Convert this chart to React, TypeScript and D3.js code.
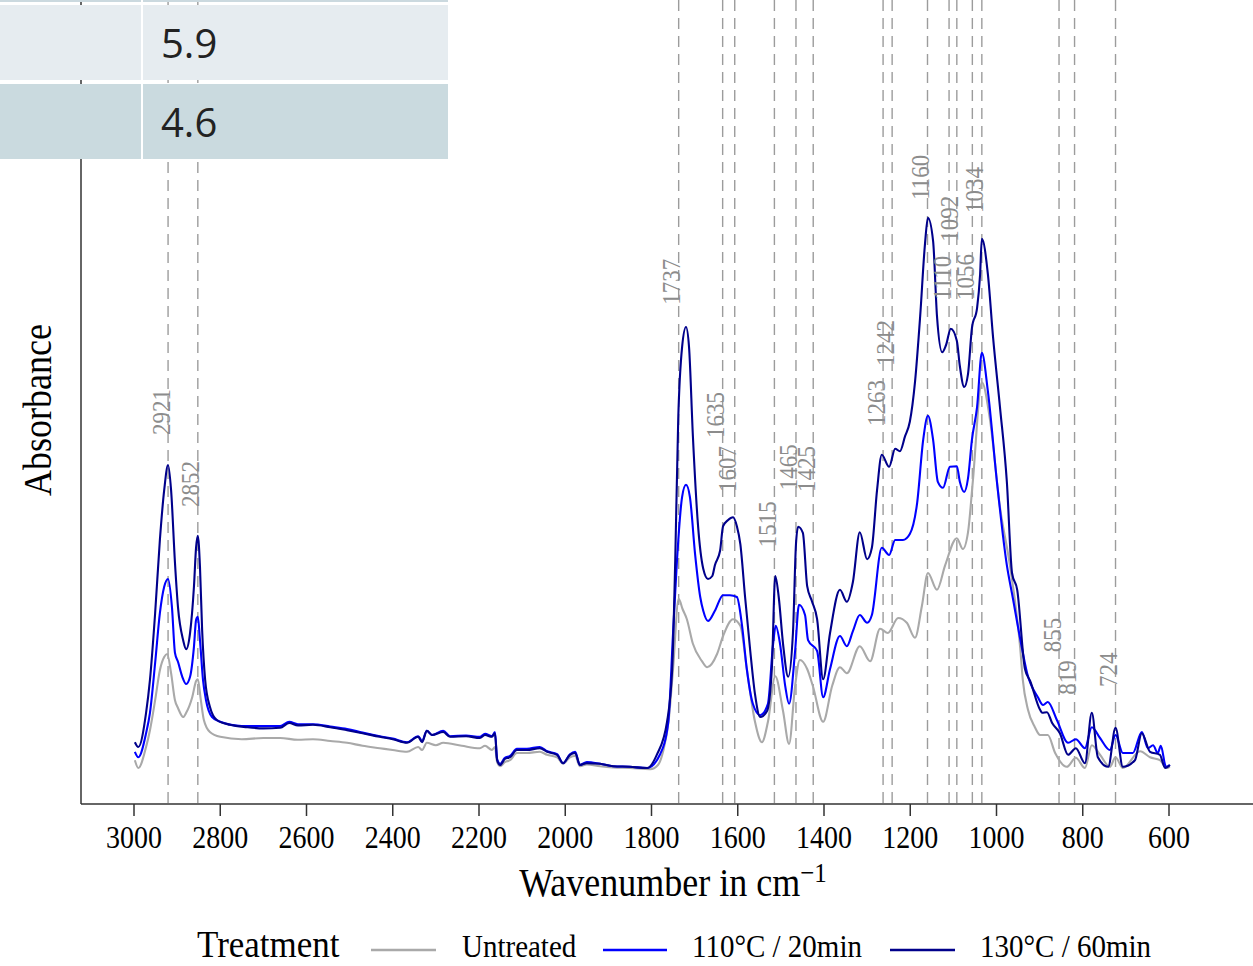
import React from "react";
import * as d3 from "d3";

// ---------- data ----------
const xTicks = [3000, 2800, 2600, 2400, 2200, 2000, 1800, 1600, 1400, 1200, 1000, 800, 600];
const peakWavenumbers = [2921, 2852, 1737, 1635, 1607, 1515, 1465, 1425, 1263, 1242, 1160, 1110, 1092, 1056, 1034, 855, 819, 724];
const peakLabelLevels = [0.615, 0.495, 0.832, 0.61, 0.52, 0.428, 0.523, 0.52, 0.63, 0.73, 1.007, 0.84, 0.937, 0.84, 0.985, 0.253, 0.182, 0.195];
const treatments = ["Untreated", "110°C / 20min", "130°C / 60min"];
const treatmentColors = ["#A9A9A9", "#0000FF", "#00008B"];
const tableFirstCol = ["", "", ""];
const tableSecondCol = ["", "5.9", "4.6"];

const untreated: [number, number][] = [
  [2998, 0.073], [2990, 0.06], [2972, 0.095], [2963, 0.123], [2951, 0.173], [2940, 0.223], [2930, 0.245], [2923, 0.25],
  [2914, 0.218], [2905, 0.173], [2898, 0.16], [2886, 0.145], [2879, 0.152], [2865, 0.178], [2856, 0.205], [2852, 0.208],
  [2845, 0.173], [2838, 0.14], [2824, 0.12], [2800, 0.112], [2750, 0.108], [2700, 0.11], [2661, 0.11], [2620, 0.107],
  [2585, 0.108], [2545, 0.105], [2506, 0.102], [2470, 0.097], [2430, 0.093], [2400, 0.09], [2367, 0.087], [2341, 0.095],
  [2332, 0.09], [2321, 0.102], [2300, 0.098], [2283, 0.102], [2240, 0.097], [2198, 0.093], [2186, 0.097], [2170, 0.09],
  [2163, 0.095], [2158, 0.07], [2151, 0.063], [2140, 0.07], [2128, 0.073], [2112, 0.085], [2089, 0.085], [2059, 0.087],
  [2042, 0.082], [2019, 0.078], [2005, 0.067], [1989, 0.078], [1977, 0.08], [1966, 0.063], [1950, 0.066], [1919, 0.063],
  [1889, 0.061], [1850, 0.06], [1803, 0.058], [1785, 0.065], [1773, 0.088], [1760, 0.14], [1750, 0.225], [1737, 0.342],
  [1728, 0.325], [1718, 0.308], [1704, 0.267], [1683, 0.238], [1671, 0.228], [1648, 0.25], [1634, 0.28], [1611, 0.308],
  [1594, 0.297], [1579, 0.225], [1560, 0.137], [1544, 0.103], [1530, 0.137], [1513, 0.213], [1495, 0.155], [1481, 0.1],
  [1467, 0.197], [1456, 0.24], [1439, 0.225], [1426, 0.197], [1402, 0.137], [1381, 0.197], [1363, 0.228], [1347, 0.218],
  [1317, 0.263], [1293, 0.238], [1270, 0.292], [1252, 0.285], [1228, 0.31], [1208, 0.302], [1189, 0.277], [1173, 0.33],
  [1159, 0.385], [1138, 0.357], [1119, 0.398], [1092, 0.443], [1078, 0.425], [1066, 0.453], [1055, 0.537], [1034, 0.703],
  [1015, 0.64], [992, 0.495], [969, 0.398], [945, 0.26], [939, 0.207], [927, 0.157], [911, 0.128], [899, 0.115],
  [881, 0.115], [864, 0.085], [837, 0.062], [816, 0.077], [795, 0.06], [779, 0.098], [760, 0.082], [737, 0.062],
  [724, 0.078], [707, 0.06], [667, 0.088], [644, 0.078], [621, 0.073], [605, 0.06], [598, 0.062],
];

const treated110: [number, number][] = [
  [2998, 0.087], [2990, 0.078], [2972, 0.118], [2963, 0.152], [2951, 0.235], [2940, 0.318], [2930, 0.362], [2921, 0.375],
  [2912, 0.328], [2905, 0.252], [2898, 0.237], [2888, 0.212], [2879, 0.2], [2870, 0.212], [2861, 0.262], [2856, 0.307],
  [2852, 0.312], [2847, 0.273], [2840, 0.207], [2833, 0.173], [2819, 0.145], [2800, 0.137], [2750, 0.13], [2700, 0.13],
  [2661, 0.13], [2640, 0.137], [2620, 0.133], [2585, 0.133], [2545, 0.129], [2506, 0.125], [2470, 0.119], [2430, 0.113],
  [2400, 0.109], [2367, 0.103], [2341, 0.113], [2332, 0.105], [2321, 0.122], [2309, 0.115], [2283, 0.122], [2267, 0.113],
  [2230, 0.114], [2198, 0.112], [2186, 0.117], [2170, 0.113], [2163, 0.12], [2158, 0.075], [2151, 0.067], [2140, 0.077],
  [2128, 0.08], [2112, 0.092], [2089, 0.092], [2059, 0.095], [2042, 0.088], [2019, 0.083], [2005, 0.068], [1989, 0.083],
  [1977, 0.087], [1966, 0.065], [1950, 0.07], [1919, 0.067], [1889, 0.063], [1850, 0.062], [1810, 0.06], [1780, 0.083],
  [1761, 0.137], [1750, 0.285], [1741, 0.405], [1729, 0.512], [1720, 0.532], [1711, 0.512], [1699, 0.417], [1687, 0.345],
  [1680, 0.322], [1669, 0.305], [1653, 0.322], [1634, 0.348], [1618, 0.348], [1602, 0.345], [1590, 0.297], [1579, 0.225],
  [1565, 0.167], [1548, 0.148], [1530, 0.167], [1518, 0.267], [1512, 0.297], [1502, 0.267], [1490, 0.197], [1481, 0.167],
  [1467, 0.255], [1458, 0.332], [1444, 0.315], [1437, 0.273], [1416, 0.255], [1402, 0.178], [1386, 0.225], [1363, 0.28],
  [1347, 0.263], [1333, 0.288], [1317, 0.315], [1300, 0.302], [1289, 0.315], [1266, 0.427], [1249, 0.415], [1235, 0.44],
  [1217, 0.44], [1201, 0.45], [1184, 0.502], [1170, 0.607], [1159, 0.647], [1147, 0.607], [1136, 0.537], [1124, 0.527],
  [1108, 0.562], [1092, 0.563], [1085, 0.537], [1075, 0.52], [1066, 0.543], [1057, 0.607], [1045, 0.662], [1034, 0.752],
  [1020, 0.688], [999, 0.537], [976, 0.398], [962, 0.343], [945, 0.275], [929, 0.218], [904, 0.178], [892, 0.165],
  [881, 0.17], [860, 0.14], [834, 0.102], [816, 0.108], [795, 0.093], [779, 0.128], [760, 0.11], [737, 0.09],
  [724, 0.115], [707, 0.085], [684, 0.085], [663, 0.12], [649, 0.093], [637, 0.098], [626, 0.085], [619, 0.097],
  [607, 0.062], [598, 0.065],
];

const treated130: [number, number][] = [
  [2998, 0.103], [2990, 0.095], [2972, 0.152], [2963, 0.207], [2951, 0.318], [2940, 0.44], [2930, 0.523], [2921, 0.565],
  [2914, 0.523], [2905, 0.402], [2898, 0.328], [2886, 0.273], [2879, 0.258], [2870, 0.285], [2861, 0.362], [2856, 0.428],
  [2852, 0.447], [2847, 0.395], [2842, 0.29], [2835, 0.207], [2824, 0.162], [2808, 0.14], [2777, 0.132], [2738, 0.128],
  [2700, 0.126], [2661, 0.127], [2640, 0.135], [2620, 0.131], [2585, 0.132], [2545, 0.128], [2506, 0.123], [2470, 0.118],
  [2430, 0.112], [2400, 0.108], [2367, 0.102], [2341, 0.112], [2332, 0.103], [2321, 0.122], [2309, 0.115], [2283, 0.12],
  [2267, 0.112], [2230, 0.113], [2198, 0.11], [2186, 0.115], [2170, 0.112], [2163, 0.118], [2158, 0.073], [2151, 0.065],
  [2140, 0.075], [2128, 0.078], [2112, 0.09], [2089, 0.09], [2059, 0.093], [2042, 0.087], [2019, 0.082], [2005, 0.068],
  [1989, 0.082], [1977, 0.085], [1966, 0.065], [1950, 0.068], [1919, 0.067], [1889, 0.063], [1850, 0.062], [1810, 0.06],
  [1787, 0.083], [1764, 0.137], [1752, 0.225], [1745, 0.405], [1738, 0.642], [1729, 0.762], [1720, 0.795], [1713, 0.762],
  [1704, 0.613], [1692, 0.463], [1680, 0.392], [1669, 0.375], [1659, 0.38], [1653, 0.398], [1641, 0.422], [1634, 0.463],
  [1623, 0.473], [1611, 0.478], [1602, 0.463], [1594, 0.433], [1583, 0.345], [1571, 0.255], [1560, 0.183], [1548, 0.145],
  [1532, 0.155], [1521, 0.225], [1513, 0.38], [1505, 0.345], [1495, 0.267], [1483, 0.212], [1472, 0.285], [1465, 0.433],
  [1460, 0.462], [1449, 0.452], [1439, 0.363], [1428, 0.338], [1416, 0.308], [1402, 0.208], [1386, 0.285], [1363, 0.357],
  [1347, 0.337], [1333, 0.37], [1317, 0.453], [1300, 0.408], [1289, 0.427], [1277, 0.523], [1266, 0.582], [1249, 0.562],
  [1235, 0.592], [1224, 0.588], [1212, 0.613], [1201, 0.637], [1189, 0.703], [1177, 0.813], [1166, 0.932], [1159, 0.977],
  [1147, 0.938], [1138, 0.813], [1126, 0.753], [1117, 0.765], [1106, 0.792], [1092, 0.772], [1085, 0.73], [1075, 0.695],
  [1066, 0.717], [1057, 0.793], [1045, 0.827], [1038, 0.883], [1034, 0.942], [1020, 0.883], [1008, 0.778], [992, 0.662],
  [976, 0.537], [964, 0.385], [952, 0.357], [934, 0.225], [922, 0.205], [899, 0.157], [894, 0.152], [883, 0.153],
  [871, 0.135], [853, 0.118], [834, 0.082], [816, 0.093], [795, 0.068], [779, 0.152], [765, 0.078], [741, 0.062],
  [724, 0.127], [707, 0.062], [679, 0.073], [663, 0.118], [644, 0.087], [621, 0.082], [609, 0.06], [598, 0.065],
];

const seriesList = [untreated, treated110, treated130];

// ---------- layout ----------
const W = 1253;
const H = 966;
const panelLeft = 81;
const panelBottom = 804;
const serif = "'Liberation Serif', 'Times New Roman', serif";
const sans = "'Open Sans', 'Noto Sans', sans-serif";
const STRETCH = 1.1;

function T(props: {
  x: number; y: number; rotate?: number; anchor?: string; size: number; fill?: string; family?: string; children: React.ReactNode;
}) {
  const { x, y, rotate = 0, anchor = "start", size, fill = "#000", family = serif, children } = props;
  return (
    <text
      transform={`translate(${x},${y}) rotate(${rotate}) scale(1,${STRETCH})`}
      textAnchor={anchor}
      fontSize={size}
      fill={fill}
      fontFamily={family}
    >
      {children}
    </text>
  );
}

export default function App() {
  const x = d3.scaleLinear().domain([3000, 600]).range([134, 1169]);
  const y = d3.scaleLinear().domain([0, 1]).range([panelBottom, 204]);
  const line = d3
    .line<[number, number]>()
    .x((d) => x(d[0]))
    .y((d) => y(d[1]))
    .curve(d3.curveMonotoneX);

  const rowTops = [-73, 5, 84];
  const rowH = 75;
  const rowFills = ["#CBD9DF", "#E6ECF0", "#CADADF"];

  const legendKeys = [
    { x1: 371, x2: 436, tx: 462 },
    { x1: 603, x2: 667, tx: 692 },
    { x1: 890, x2: 955, tx: 980 },
  ];

  return (
    <svg width={W} height={H} style={{ position: "absolute", left: 0, top: 0, background: "#fff" }}>
      <rect x={0} y={0} width={W} height={H} fill="#fff" />
      {/* dashed peak lines */}
      {peakWavenumbers.map((p) => (
        <line key={"d" + p} x1={x(p)} x2={x(p)} y1={0} y2={panelBottom} stroke="#9C9C9C" strokeWidth={1.4} strokeDasharray="11,7" />
      ))}
      {/* spectra */}
      {seriesList.map((s, i) => (
        <path key={"s" + i} d={line(s) || ""} fill="none" stroke={treatmentColors[i]} strokeWidth={2.1} strokeLinejoin="round" />
      ))}
      {/* peak labels */}
      {peakWavenumbers.map((p, i) => (
        <T key={"l" + p} x={x(p) + 1.5} y={y(peakLabelLevels[i])} rotate={-90} size={23} fill="#8C8C8C">
          {String(p)}
        </T>
      ))}
      {/* axes */}
      <line x1={panelLeft} x2={panelLeft} y1={0} y2={panelBottom} stroke="#333" strokeWidth={1.5} />
      <line x1={panelLeft} x2={W} y1={panelBottom} y2={panelBottom} stroke="#333" strokeWidth={1.5} />
      {xTicks.map((t) => (
        <g key={"t" + t}>
          <line x1={x(t)} x2={x(t)} y1={panelBottom} y2={panelBottom + 12} stroke="#333" strokeWidth={1.5} />
          <T x={x(t)} y={848} anchor="middle" size={28}>
            {String(t)}
          </T>
        </g>
      ))}
      <T x={673} y={896} anchor="middle" size={36}>
        Wavenumber in cm
        <tspan fontSize={25} dy={-13}>−1</tspan>
      </T>
      <T x={51} y={410} anchor="middle" rotate={-90} size={36}>
        Absorbance
      </T>
      {/* legend */}
      <T x={197} y={957} size={35}>
        Treatment
      </T>
      {treatments.map((tr, i) => (
        <g key={"lg" + i}>
          <line x1={legendKeys[i].x1} x2={legendKeys[i].x2} y1={950} y2={950} stroke={treatmentColors[i]} strokeWidth={2.5} />
          <T x={legendKeys[i].tx} y={957} size={29}>
            {tr}
          </T>
        </g>
      ))}
      {/* overlaid table */}
      {rowTops.map((top, r) => (
        <g key={"row" + r}>
          <rect x={0} y={top} width={141} height={rowH} fill={rowFills[r]} />
          <rect x={143} y={top} width={305} height={rowH} fill={rowFills[r]} />
          <text x={20} y={top + 53} fontSize={40} fontFamily={sans} fill="#222">
            {tableFirstCol[r]}
          </text>
          <text x={161} y={top + 53} fontSize={40} fontFamily={sans} fill="#222">
            {tableSecondCol[r]}
          </text>
        </g>
      ))}
    </svg>
  );
}
